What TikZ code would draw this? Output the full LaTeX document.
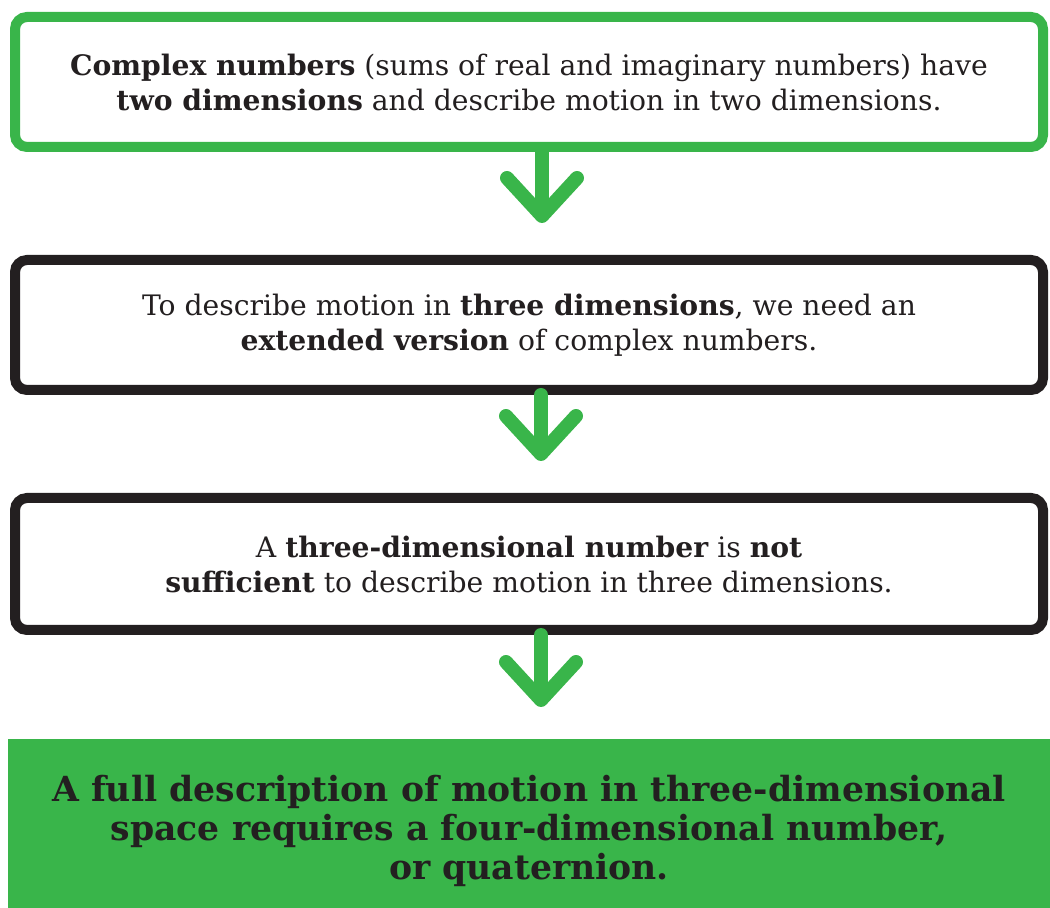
\documentclass[tikz,border=0pt]{standalone}
\usepackage{fontspec}
\setmainfont{DejaVu Serif}
\usepackage{xcolor}
\usepackage{tikz}
\usetikzlibrary{positioning, arrows.meta}
\definecolor{leafgreen}{RGB}{57,181,74}
\definecolor{inkblack}{RGB}{35,31,32}
\tikzset{
  stepbox/.style={
    rectangle, rounded corners=6pt,
    draw=leafgreen, line width=5pt,
    fill=white, text=inkblack,
    minimum height=65pt, minimum width=514pt,
    align=center, font=\fontsize{14.1}{17.5}\selectfont, inner sep=3pt
  },
  stepbox-dark/.style={stepbox, draw=inkblack},
  resultbox/.style={
    rectangle, fill=leafgreen, text=inkblack,
    minimum height=91.5pt, minimum width=521.5pt,
    align=center, font=\fontsize{17.3}{19.5}\selectfont\bfseries, inner sep=3pt
  },
  flowarrow/.style={
    -{Straight Barb[length=19pt, width=35pt, round]},
    draw=leafgreen, line width=7pt, line cap=round, shorten >=16pt
  }
}
\begin{document}
\begin{tikzpicture}[x=0.5pt, y=-0.5pt]
  \useasboundingbox (0,0) rectangle (1050,908);
  \node[stepbox] (b1) at (529,82) {\textbf{Complex numbers} (sums of real and imaginary numbers) have\\\textbf{two dimensions} and describe motion in two dimensions.};
  \node[stepbox-dark, below=51.5pt of b1] (b2) {To describe motion in \textbf{three dimensions}, we need an\\\textbf{extended version} of complex numbers.};
  \node[stepbox-dark, below=49pt of b2, minimum height=66pt] (b3) {A \textbf{three-dimensional number} is \textbf{not}\\\textbf{sufficient} to describe motion in three dimensions.};
  \node[resultbox, below=52pt of b3] (b4) {A full description of motion in three-dimensional\\space requires a four-dimensional number,\\or quaternion.};

  \draw[flowarrow] ([xshift=6.5pt]b1.south) -- ([xshift=6.5pt]b2.north);
  \draw[flowarrow] ([xshift=6pt]b2.south) -- ([xshift=6pt]b3.north);
  \draw[flowarrow] ([xshift=6pt]b3.south) -- ([xshift=6pt]b4.north);
\end{tikzpicture}
\end{document}
